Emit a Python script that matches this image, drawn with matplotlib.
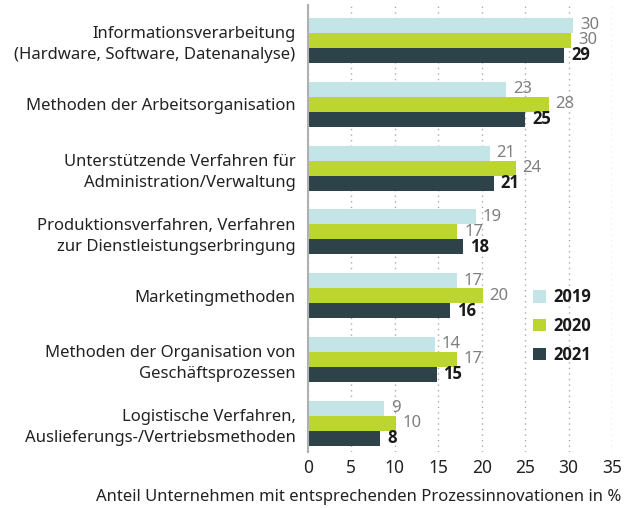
import matplotlib
matplotlib.use("Agg")
import matplotlib.pyplot as plt
import numpy as np
from matplotlib.patches import Patch

categories = [
    "Informationsverarbeitung\n(Hardware, Software, Datenanalyse)",
    "Methoden der Arbeitsorganisation",
    "Unterstützende Verfahren für\nAdministration/Verwaltung",
    "Produktionsverfahren, Verfahren\nzur Dienstleistungserbringung",
    "Marketingmethoden",
    "Methoden der Organisation von\nGeschäftsprozessen",
    "Logistische Verfahren,\nAuslieferungs-/Vertriebsmethoden",
]
years = ["2019", "2020", "2021"]
v2019 = [30.5, 22.8, 20.9, 19.3, 17.1, 14.6, 8.8]
v2020 = [30.3, 27.7, 23.9, 17.2, 20.1, 17.1, 10.1]
v2021 = [29.5, 25.0, 21.4, 17.9, 16.4, 14.8, 8.3]
lab2019 = ["30", "23", "21", "19", "17", "14", "9"]
lab2020 = ["30", "28", "24", "17", "20", "17", "10"]
lab2021 = ["29", "25", "21", "18", "16", "15", "8"]
xticks = [0, 5, 10, 15, 20, 25, 30, 35]
xlabel = "Anteil Unternehmen mit entsprechenden Prozessinnovationen in %"

colors = ["#c3e5e8", "#bdd62f", "#2e424a"]
plt.rcParams['font.family'] = ['Noto Sans', 'DejaVu Sans']
BOLD = ['Open Sans', 'DejaVu Sans']

fig = plt.figure(figsize=(6.35, 5.08), dpi=100)
W, H = 635, 508
ax_left, ax_right, ax_top, ax_bot = 308, 612, 5, 452
ax = fig.add_axes([ax_left / W, 1 - ax_bot / H, (ax_right - ax_left) / W, (ax_bot - ax_top) / H])

n = len(categories)
y = np.arange(n)
bh = 0.235
series = [v2019, v2020, v2021]
labels = [lab2019, lab2020, lab2021]
for k, (vals, labs) in enumerate(zip(series, labels)):
    pos = y + (k - 1) * bh
    ax.barh(pos, vals, height=bh, color=colors[k], zorder=3)
    for p, v, l in zip(pos, vals, labs):
        if k == 2:
            ax.annotate(l, (v, p), xytext=(5, 0), textcoords="offset points",
                        va="center", ha="left", fontsize=12, fontweight="bold",
                        family=BOLD, color="#1a1a1a")
        else:
            ax.annotate(l, (v, p), xytext=(5, 0), textcoords="offset points",
                        va="center", ha="left", fontsize=12, color="#7f7f7f")

ax.set_xlim(0, 35)
ax.set_ylim(6.45, -0.556)
ax.set_yticks(y)
ax.set_yticklabels(categories, fontsize=12, color="#222222", linespacing=1.4)
ax.set_xticks(xticks)
ax.set_xticklabels([str(t) for t in xticks], fontsize=12.5, color="#222222")
ax.tick_params(axis="both", length=0)
ax.tick_params(axis="y", pad=9)
ax.tick_params(axis="x", pad=5)
ax.grid(axis="x", color="#aaaaaa", linestyle=(0, (1, 3)), linewidth=1.0, zorder=0)
for s in ["top", "right", "bottom"]:
    ax.spines[s].set_visible(False)
ax.spines["left"].set_color("#b0b0b0")
ax.spines["left"].set_linewidth(1.5)
ax.spines["left"].set_zorder(4)

handles = [Patch(facecolor=c, edgecolor="none") for c in colors]
leg = ax.legend(handles, years, loc="upper left",
                bbox_to_anchor=((533 - ax_left) / (ax_right - ax_left), 1 - (288 - ax_top) / (ax_bot - ax_top)),
                frameon=False, handlelength=0.8, handleheight=0.8,
                labelspacing=0.65, handletextpad=0.45, borderaxespad=0, borderpad=0,
                prop={'family': BOLD, 'weight': 'bold', 'size': 12})
for t in leg.get_texts():
    t.set_color("#1a1a1a")

fig.text(621 / W, 1 - 497 / H, xlabel, ha="right", va="center", fontsize=12, color="#222222")

fig.savefig("out.png", dpi=100)
